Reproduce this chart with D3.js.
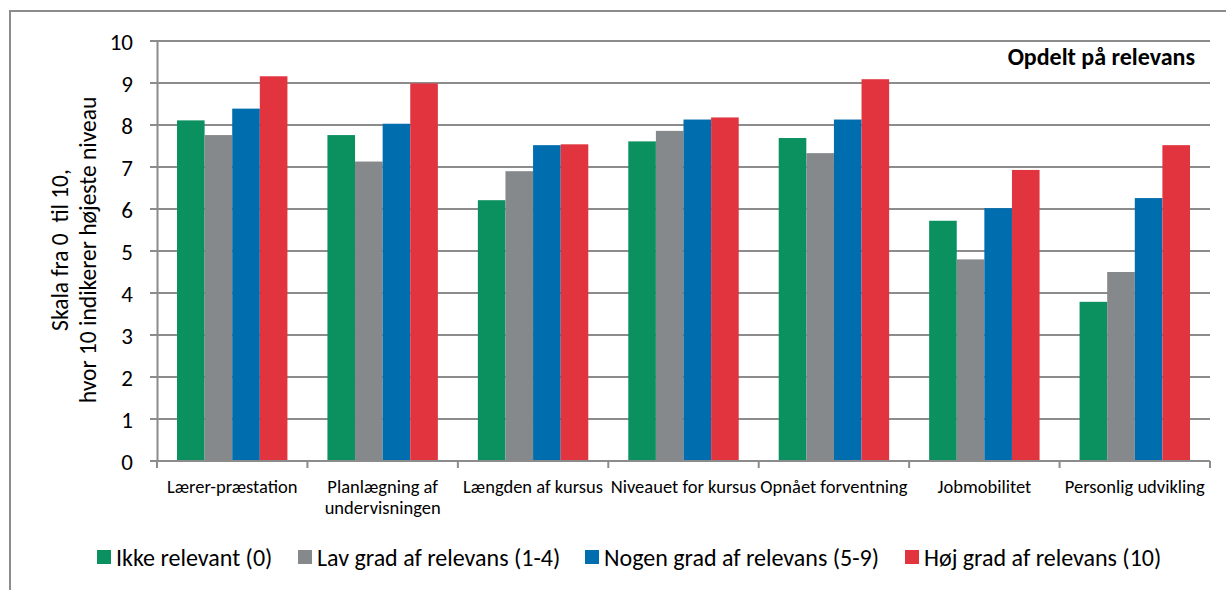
<!DOCTYPE html>
<html>
<head>
<meta charset="utf-8">
<script src="https://cdn.jsdelivr.net/npm/d3@7"></script>
<style>
  body { margin: 0; background: #fff; }
  text { font-family: Carlito, Calibri, "Noto Sans", sans-serif; fill: #000; white-space: pre; }
</style>
</head>
<body>
<div id="chart"></div>
<script>
// data
const categories = ["Lærer-præstation", "Planlægning af undervisningen", "Længden af kursus",
  "Niveauet for kursus", "Opnået forventning", "Jobmobilitet", "Personlig udvikling"];
const seriesNames = ["Ikke relevant (0)", "Lav grad af relevans (1-4)",
  "Nogen grad af relevans (5-9)", "Høj grad af relevans (10)"];
const ikkeRelevant = [8.11, 7.76, 6.21, 7.61, 7.69, 5.72, 3.79];
const lavGrad      = [7.76, 7.13, 6.90, 7.86, 7.33, 4.80, 4.50];
const nogenGrad    = [8.39, 8.03, 7.52, 8.13, 8.13, 6.02, 6.26];
const hojGrad      = [9.16, 8.99, 7.54, 8.18, 9.09, 6.93, 7.52];
const yTicks = [0, 1, 2, 3, 4, 5, 6, 7, 8, 9, 10];
const colors = ["#0b9160", "#86898c", "#006dae", "#e1343f"];

const series = [ikkeRelevant, lavGrad, nogenGrad, hojGrad];

const W = 1226, H = 590;
const margin = {top: 41, right: 16, bottom: 129, left: 157};
const width = W - margin.left - margin.right;
const height = H - margin.top - margin.bottom;

const root = d3.select("#chart").append("svg")
    .attr("width", W)
    .attr("height", H);

// outer frame
root.append("rect")
    .attr("x", 10).attr("y", 11)
    .attr("width", W + 20).attr("height", H + 20)
    .attr("fill", "none")
    .attr("stroke", "#8c8c8c")
    .attr("stroke-width", 2);

const svg = root.append("g")
    .attr("transform", `translate(${margin.left},${margin.top})`);

const x = d3.scaleBand()
    .domain(categories)
    .range([0, width])
    .paddingInner(0)
    .paddingOuter(0);

const inner = d3.scaleBand()
    .domain(d3.range(series.length))
    .range([20, x.bandwidth() - 20])
    .padding(0);

const y = d3.scaleLinear()
    .domain([0, 10])
    .range([height, 0]);

// grid
svg.append("g")
    .selectAll("line")
    .data(yTicks)
    .enter().append("line")
    .attr("x1", -7).attr("x2", width)
    .attr("y1", d => y(d)).attr("y2", d => y(d))
    .attr("stroke", "#8c8c8c")
    .attr("stroke-width", 2);

// y axis
const yAxis = svg.append("g")
    .call(d3.axisLeft(y).tickValues(yTicks).tickSize(0).tickPadding(24));
yAxis.select(".domain").attr("stroke", "#8c8c8c").attr("stroke-width", 2);
yAxis.selectAll("text").style("font-size", "23px").attr("dy", "0.35em");

// bars
const groups = svg.append("g")
    .selectAll("g")
    .data(categories)
    .enter().append("g")
    .attr("transform", d => `translate(${x(d)},0)`);

groups.selectAll("rect")
    .data((d, i) => series.map((s, k) => ({k, value: s[i]})))
    .enter().append("rect")
    .attr("x", d => inner(d.k))
    .attr("y", d => y(d.value))
    .attr("width", inner.bandwidth())
    .attr("height", d => height - y(d.value))
    .attr("fill", d => colors[d.k]);

// x axis
const xAxis = svg.append("g")
    .attr("transform", `translate(0,${height})`);
xAxis.append("line")
    .attr("x1", 0).attr("x2", width)
    .attr("stroke", "#8c8c8c").attr("stroke-width", 2);
xAxis.selectAll(".tk")
    .data(d3.range(categories.length + 1))
    .enter().append("line")
    .attr("class", "tk")
    .attr("x1", i => i * x.step()).attr("x2", i => i * x.step())
    .attr("y1", 0).attr("y2", 7)
    .attr("stroke", "#8c8c8c").attr("stroke-width", 2);

const xLabels = {
  "Planlægning af undervisningen": ["Planlægning af", "undervisningen"]
};
xAxis.selectAll(".lbl")
    .data(categories)
    .enter().append("text")
    .attr("class", "lbl")
    .attr("text-anchor", "middle")
    .style("font-size", "18.5px")
    .attr("transform", d => `translate(${x(d) + x.bandwidth() / 2},32)`)
    .each(function(d) {
      const lines = xLabels[d] || [d];
      d3.select(this).selectAll("tspan")
        .data(lines)
        .enter().append("tspan")
        .attr("x", 0)
        .attr("dy", (l, i) => i === 0 ? 0 : 21)
        .text(l => l);
    });

// y title
const yTitle = root.append("text")
    .attr("transform", "translate(68,250) rotate(-90)")
    .attr("text-anchor", "middle")
    .style("font-size", "23.5px");
yTitle.append("tspan").attr("x", 0).attr("dy", 0).text("Skala fra 0  til 10,");
yTitle.append("tspan").attr("x", 0).attr("dy", 28).text("hvor 10 indikerer højeste niveau");

// chart title
root.append("text")
    .attr("x", 1195)
    .attr("y", 65)
    .attr("text-anchor", "end")
    .style("font-size", "24px")
    .style("font-weight", "bold")
    .text("Opdelt på relevans");

// legend
const legendX = [97, 298, 585, 905];
const legend = root.append("g")
    .selectAll("g")
    .data(seriesNames)
    .enter().append("g")
    .attr("transform", (d, i) => `translate(${legendX[i]},550)`);

legend.append("rect")
    .attr("width", 14)
    .attr("height", 14)
    .attr("fill", (d, i) => colors[i]);

legend.append("text")
    .attr("x", 19)
    .attr("y", 7)
    .attr("dy", "0.36em")
    .style("font-size", "24px")
    .text(d => d);
</script>
</body>
</html>
